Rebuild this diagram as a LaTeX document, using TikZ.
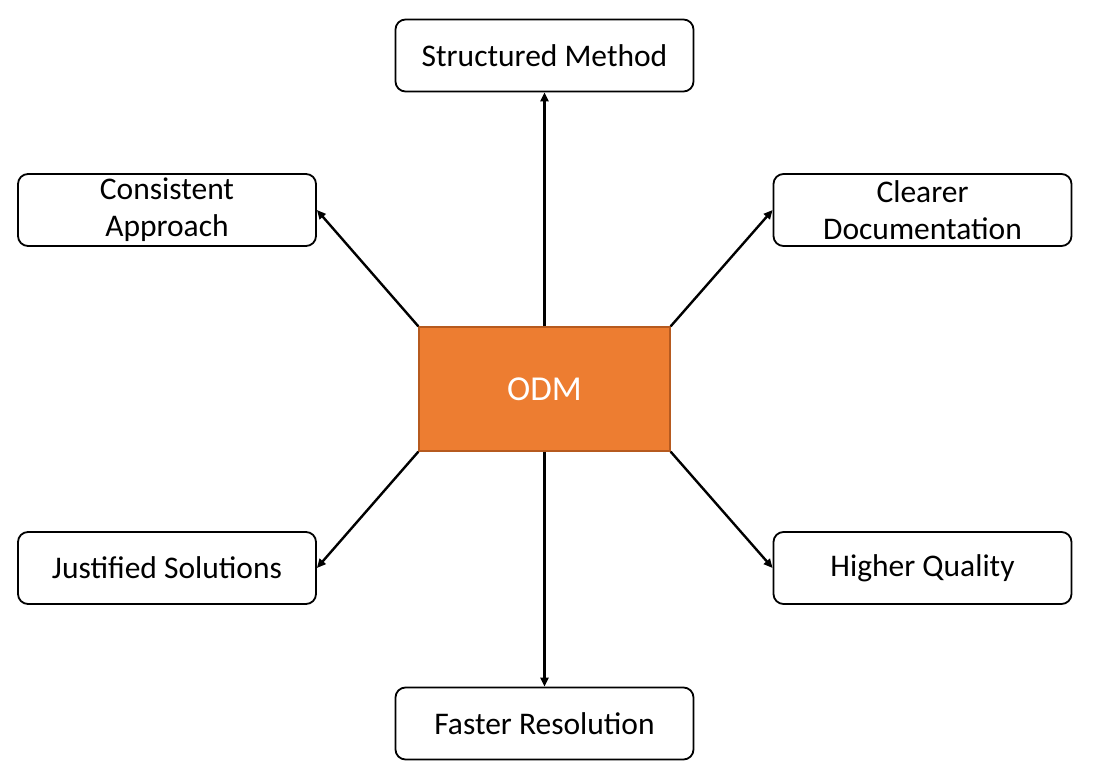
\documentclass[tikz,border=0pt]{standalone}
\usepackage{fontspec}
\setmainfont{Carlito}
\usetikzlibrary{arrows.meta}
\definecolor{odmfill}{HTML}{ED7D31}
\definecolor{odmline}{HTML}{B65A1F}
\begin{document}
\begin{tikzpicture}[x=1pt,y=-1pt,
  leaf/.style={draw=black,line width=1.8pt,rounded corners=10pt,fill=white,
    minimum width=298pt,minimum height=72pt,inner sep=0pt,align=center,
    font=\fontsize{31.5}{37}\selectfont},
  hub/.style={draw=odmline,line width=1.2pt,fill=odmfill,text=white,
    minimum width=251pt,minimum height=124pt,inner sep=0pt,
    font=\fontsize{35}{40}\selectfont},
  conn/.style={line width=2.4pt,-{Triangle[length=9pt,width=8pt]}}]
\useasboundingbox (0,0) rectangle (1100,776);
\node[hub] (odm) at (544.5,389) {ODM};
\node[leaf] (sm) at (544.5,55.5) {Structured Method};
\node[leaf] (ca) at (167,210) {Consistent\\Approach};
\node[leaf] (cd) at (922.5,210) {Clearer\\Documentation};
\node[leaf] (js) at (167,568) {Justified Solutions};
\node[leaf] (hq) at (922.5,568) {Higher Quality};
\node[leaf] (fr) at (544.5,723.5) {Faster Resolution};
\draw[conn] (odm.north) -- (sm.south);
\draw[conn] (odm.south) -- (fr.south |- fr.north);
\draw[conn] (odm.north west) -- (ca.east);
\draw[conn] (odm.north east) -- (cd.west);
\draw[conn] (odm.south west) -- (js.east);
\draw[conn] (odm.south east) -- (hq.west);
\end{tikzpicture}
\end{document}
